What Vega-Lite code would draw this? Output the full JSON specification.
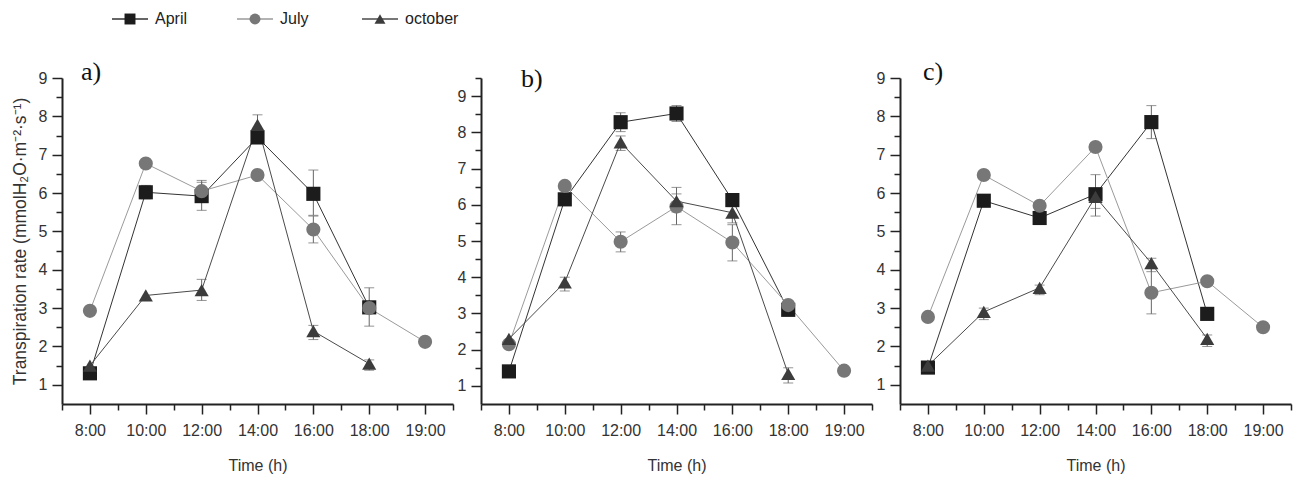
{
  "$schema": "https://vega.github.io/schema/vega-lite/v6.json",
  "padding": {"left": 11, "top": 11, "right": 5, "bottom": 5},
  "spacing": 32,
  "background": "white",
  "datasets": {
    "keys": [
      {"month": "April", "pos": 0},
      {"month": "July", "pos": 1},
      {"month": "october", "pos": 2}
    ],
    "pts": [
      {"panel": "a", "month": "April", "idx": 1, "value": 1.3},
      {"panel": "a", "month": "April", "idx": 2, "value": 6.02, "lo": 5.85, "hi": 6.2},
      {"panel": "a", "month": "April", "idx": 3, "value": 5.92, "lo": 5.55, "hi": 6.28},
      {"panel": "a", "month": "April", "idx": 4, "value": 7.45, "lo": 7.35, "hi": 7.6},
      {"panel": "a", "month": "April", "idx": 5, "value": 5.98, "lo": 5.42, "hi": 6.6},
      {"panel": "a", "month": "April", "idx": 6, "value": 3.02, "lo": 2.53, "hi": 3.53},
      {"panel": "a", "month": "July", "idx": 1, "value": 2.93},
      {"panel": "a", "month": "July", "idx": 2, "value": 6.77},
      {"panel": "a", "month": "July", "idx": 3, "value": 6.05, "lo": 5.8, "hi": 6.33},
      {"panel": "a", "month": "July", "idx": 4, "value": 6.47},
      {"panel": "a", "month": "July", "idx": 5, "value": 5.05, "lo": 4.7, "hi": 5.4},
      {"panel": "a", "month": "July", "idx": 6, "value": 3.0},
      {"panel": "a", "month": "July", "idx": 7, "value": 2.12},
      {"panel": "a", "month": "october", "idx": 1, "value": 1.5},
      {"panel": "a", "month": "october", "idx": 2, "value": 3.33},
      {"panel": "a", "month": "october", "idx": 3, "value": 3.47, "lo": 3.2, "hi": 3.75},
      {"panel": "a", "month": "october", "idx": 4, "value": 7.78, "lo": 7.5, "hi": 8.04},
      {"panel": "a", "month": "october", "idx": 5, "value": 2.4, "lo": 2.18, "hi": 2.55},
      {"panel": "a", "month": "october", "idx": 6, "value": 1.55, "lo": 1.38, "hi": 1.65},

      {"panel": "b", "month": "April", "idx": 1, "value": 1.4},
      {"panel": "b", "month": "April", "idx": 2, "value": 6.15},
      {"panel": "b", "month": "April", "idx": 3, "value": 8.28, "lo": 8.02, "hi": 8.54},
      {"panel": "b", "month": "April", "idx": 4, "value": 8.52, "lo": 8.3, "hi": 8.74},
      {"panel": "b", "month": "April", "idx": 5, "value": 6.13},
      {"panel": "b", "month": "April", "idx": 6, "value": 3.1},
      {"panel": "b", "month": "July", "idx": 1, "value": 2.15},
      {"panel": "b", "month": "July", "idx": 2, "value": 6.52},
      {"panel": "b", "month": "July", "idx": 3, "value": 4.98, "lo": 4.7, "hi": 5.25},
      {"panel": "b", "month": "July", "idx": 4, "value": 5.95, "lo": 5.45, "hi": 6.3},
      {"panel": "b", "month": "July", "idx": 5, "value": 4.96, "lo": 4.45, "hi": 5.45},
      {"panel": "b", "month": "July", "idx": 6, "value": 3.23},
      {"panel": "b", "month": "July", "idx": 7, "value": 1.42},
      {"panel": "b", "month": "october", "idx": 1, "value": 2.3},
      {"panel": "b", "month": "october", "idx": 2, "value": 3.86, "lo": 3.62, "hi": 4.0},
      {"panel": "b", "month": "october", "idx": 3, "value": 7.72, "lo": 7.5, "hi": 7.9},
      {"panel": "b", "month": "october", "idx": 4, "value": 6.1, "lo": 5.8, "hi": 6.48},
      {"panel": "b", "month": "october", "idx": 5, "value": 5.78, "lo": 5.5, "hi": 5.95},
      {"panel": "b", "month": "october", "idx": 6, "value": 1.33, "lo": 1.08, "hi": 1.5},

      {"panel": "c", "month": "April", "idx": 1, "value": 1.45},
      {"panel": "c", "month": "April", "idx": 2, "value": 5.8},
      {"panel": "c", "month": "April", "idx": 3, "value": 5.35},
      {"panel": "c", "month": "April", "idx": 4, "value": 5.97, "lo": 5.4, "hi": 6.48},
      {"panel": "c", "month": "April", "idx": 5, "value": 7.85, "lo": 7.42, "hi": 8.28},
      {"panel": "c", "month": "April", "idx": 6, "value": 2.85},
      {"panel": "c", "month": "July", "idx": 1, "value": 2.77},
      {"panel": "c", "month": "July", "idx": 2, "value": 6.47},
      {"panel": "c", "month": "July", "idx": 3, "value": 5.67},
      {"panel": "c", "month": "July", "idx": 4, "value": 7.2},
      {"panel": "c", "month": "July", "idx": 5, "value": 3.4, "lo": 2.85, "hi": 4.03},
      {"panel": "c", "month": "July", "idx": 6, "value": 3.7},
      {"panel": "c", "month": "July", "idx": 7, "value": 2.5},
      {"panel": "c", "month": "october", "idx": 1, "value": 1.5, "lo": 1.35, "hi": 1.6},
      {"panel": "c", "month": "october", "idx": 2, "value": 2.9, "lo": 2.7, "hi": 3.0},
      {"panel": "c", "month": "october", "idx": 3, "value": 3.53, "lo": 3.35, "hi": 3.6},
      {"panel": "c", "month": "october", "idx": 4, "value": 5.9, "lo": 5.6, "hi": 6.1},
      {"panel": "c", "month": "october", "idx": 5, "value": 4.17, "lo": 3.95, "hi": 4.3},
      {"panel": "c", "month": "october", "idx": 6, "value": 2.2, "lo": 2.0, "hi": 2.3}
    ]
  },
  "config": {
    "view": {"stroke": null},
    "font": "Liberation Sans",
    "axis": {
      "grid": false,
      "domainColor": "#222222",
      "domainWidth": 2,
      "tickColor": "#222222",
      "tickWidth": 1.5,
      "labelFont": "Liberation Sans",
      "labelColor": "#333333",
      "labelOverlap": false,
      "titleFont": "Liberation Sans",
      "titleColor": "#333333",
      "titleFontWeight": "normal"
    },
    "title": {"font": "Liberation Serif", "fontSize": 26, "fontWeight": "normal", "color": "#111111", "anchor": "start", "frame": "group", "offset": -15, "baseline": "alphabetic"}
  },
  "vconcat": [
    {
      "width": 450, "height": 16,
      "data": {"name": "keys"},
      "layer": [
        {
          "mark": {"type": "rule", "strokeWidth": 1.3, "xOffset": -18, "x2Offset": 18},
          "encoding": {
            "x": {"field": "pos", "type": "quantitative", "scale": {"domain": [-0.544, 3.056], "nice": false, "zero": false}, "axis": null},
            "x2": {"field": "pos"},
            "y": {"datum": 0, "type": "quantitative", "scale": {"domain": [-1, 1], "nice": false}, "axis": null},
            "color": {"field": "month", "type": "nominal", "legend": null, "scale": {"domain": ["April", "July", "october"], "range": ["#333333", "#9a9a9a", "#4a4a4a"]}}
          }
        },
        {
          "mark": {"type": "point", "filled": true, "opacity": 1, "size": 120},
          "encoding": {
            "x": {"field": "pos", "type": "quantitative", "axis": null},
            "y": {"datum": 0, "type": "quantitative", "axis": null},
            "fill": {"field": "month", "type": "nominal", "legend": null},
            "shape": {"field": "month", "type": "nominal", "legend": null}
          }
        },
        {
          "mark": {"type": "text", "align": "left", "baseline": "middle", "dx": 25, "fontSize": 16, "font": "Liberation Sans", "color": "#222222"},
          "encoding": {
            "x": {"field": "pos", "type": "quantitative", "axis": null},
            "y": {"datum": 0, "type": "quantitative", "axis": null},
            "text": {"field": "month", "type": "nominal"}
          }
        }
      ]
    },
    {
      "spacing": 3,
      "hconcat": [
        {
          "width": 391, "height": 326,
          "title": {"text": "a)", "dx": 19},
          "data": {"name": "pts"},
          "transform": [{"filter": "datum.panel === 'a'"}],
          "resolve": {"axis": {"x": "independent", "y": "independent"}},
          "layer": [
            {
              "transform": [{"filter": "isValid(datum.lo)"}],
              "mark": {"type": "errorbar", "ticks": true, "size": 10, "thickness": 1, "color": "#666666"},
              "encoding": {
                "x": {"field": "idx", "type": "quantitative", "scale": {"domain": [0.5, 7.5]},
                  "axis": {"orient": "bottom", "title": null, "values": [0.5, 1.5, 2.5, 3.5, 4.5, 5.5, 6.5, 7.5], "labels": false, "domain": false, "tickSize": 6}},
                "y": {"field": "lo", "type": "quantitative", "scale": {"domain": [0.5, 9], "nice": false, "zero": false},
                  "axis": {"orient": "left", "title": null, "values": [1.5, 2.5, 3.5, 4.5, 5.5, 6.5, 7.5, 8.5], "labels": false, "domain": false, "tickSize": 6}},
                "y2": {"field": "hi"}
              }
            },
            {
              "mark": {"type": "line", "strokeWidth": 1},
              "encoding": {
                "x": {"field": "idx", "type": "quantitative", "axis": null},
                "y": {"field": "value", "type": "quantitative", "axis": null},
                "stroke": {"field": "month", "type": "nominal", "legend": null, "scale": {"domain": ["April", "July", "october"], "range": ["#333333", "#9a9a9a", "#4a4a4a"]}},
                "order": {"field": "idx"}
              }
            },
            {
              "mark": {"type": "point", "filled": true, "opacity": 1, "size": 200},
              "encoding": {
                "x": {"field": "idx", "type": "quantitative", "title": "Time (h)",
                  "axis": {"orient": "bottom", "values": [1, 2, 3, 4, 5, 6, 7],
                    "labelExpr": "['8:00','10:00','12:00','14:00','16:00','18:00','19:00'][datum.value - 1]",
                    "tickSize": 10, "labelFontSize": 16, "labelPadding": 8, "titleFontSize": 16, "titlePadding": 19, "labelFlush": false}},
                "y": {"field": "value", "type": "quantitative", "title": "Transpiration rate (mmolH₂O·m⁻²·s⁻¹)",
                  "axis": {"orient": "left", "values": [1, 2, 3, 4, 5, 6, 7, 8, 9],
                    "tickSize": 10, "labelFontSize": 16, "labelPadding": 5, "titleFontSize": 17.5, "titlePadding": 9}},
                "fill": {"field": "month", "type": "nominal", "legend": null, "scale": {"domain": ["April", "July", "october"], "range": ["#1c1c1c", "#777777", "#3c3c3c"]}},
                "shape": {"field": "month", "type": "nominal", "legend": null, "scale": {"domain": ["April", "July", "october"], "range": ["square", "circle", "triangle-up"]}}
              }
            }
          ]
        },
        {
          "width": 391, "height": 326,
          "title": {"text": "b)", "dx": 40},
          "data": {"name": "pts"},
          "transform": [{"filter": "datum.panel === 'b'"}],
          "resolve": {"axis": {"x": "independent", "y": "independent"}},
          "layer": [
            {
              "transform": [{"filter": "isValid(datum.lo)"}],
              "mark": {"type": "errorbar", "ticks": true, "size": 10, "thickness": 1, "color": "#666666"},
              "encoding": {
                "x": {"field": "idx", "type": "quantitative", "scale": {"domain": [0.5, 7.5]},
                  "axis": {"orient": "bottom", "title": null, "values": [0.5, 1.5, 2.5, 3.5, 4.5, 5.5, 6.5, 7.5], "labels": false, "domain": false, "tickSize": 6}},
                "y": {"field": "lo", "type": "quantitative", "scale": {"domain": [0.5, 9.5], "nice": false, "zero": false},
                  "axis": {"orient": "left", "title": null, "values": [1.5, 2.5, 3.5, 4.5, 5.5, 6.5, 7.5, 8.5, 9.5], "labels": false, "domain": false, "tickSize": 6}},
                "y2": {"field": "hi"}
              }
            },
            {
              "mark": {"type": "line", "strokeWidth": 1},
              "encoding": {
                "x": {"field": "idx", "type": "quantitative", "axis": null},
                "y": {"field": "value", "type": "quantitative", "axis": null},
                "stroke": {"field": "month", "type": "nominal", "legend": null},
                "order": {"field": "idx"}
              }
            },
            {
              "mark": {"type": "point", "filled": true, "opacity": 1, "size": 200},
              "encoding": {
                "x": {"field": "idx", "type": "quantitative", "title": "Time (h)",
                  "axis": {"orient": "bottom", "values": [1, 2, 3, 4, 5, 6, 7],
                    "labelExpr": "['8:00','10:00','12:00','14:00','16:00','18:00','19:00'][datum.value - 1]",
                    "tickSize": 10, "labelFontSize": 16, "labelPadding": 8, "titleFontSize": 16, "titlePadding": 19, "labelFlush": false}},
                "y": {"field": "value", "type": "quantitative", "title": null,
                  "axis": {"orient": "left", "values": [1, 2, 3, 4, 5, 6, 7, 8, 9],
                    "tickSize": 10, "labelFontSize": 16, "labelPadding": 5}},
                "fill": {"field": "month", "type": "nominal", "legend": null},
                "shape": {"field": "month", "type": "nominal", "legend": null}
              }
            }
          ]
        },
        {
          "width": 391, "height": 326,
          "title": {"text": "c)", "dx": 23},
          "data": {"name": "pts"},
          "transform": [{"filter": "datum.panel === 'c'"}],
          "resolve": {"axis": {"x": "independent", "y": "independent"}},
          "layer": [
            {
              "transform": [{"filter": "isValid(datum.lo)"}],
              "mark": {"type": "errorbar", "ticks": true, "size": 10, "thickness": 1, "color": "#666666"},
              "encoding": {
                "x": {"field": "idx", "type": "quantitative", "scale": {"domain": [0.5, 7.5]},
                  "axis": {"orient": "bottom", "title": null, "values": [0.5, 1.5, 2.5, 3.5, 4.5, 5.5, 6.5, 7.5], "labels": false, "domain": false, "tickSize": 6}},
                "y": {"field": "lo", "type": "quantitative", "scale": {"domain": [0.5, 9], "nice": false, "zero": false},
                  "axis": {"orient": "left", "title": null, "values": [1.5, 2.5, 3.5, 4.5, 5.5, 6.5, 7.5, 8.5], "labels": false, "domain": false, "tickSize": 6}},
                "y2": {"field": "hi"}
              }
            },
            {
              "mark": {"type": "line", "strokeWidth": 1},
              "encoding": {
                "x": {"field": "idx", "type": "quantitative", "axis": null},
                "y": {"field": "value", "type": "quantitative", "axis": null},
                "stroke": {"field": "month", "type": "nominal", "legend": null},
                "order": {"field": "idx"}
              }
            },
            {
              "mark": {"type": "point", "filled": true, "opacity": 1, "size": 200},
              "encoding": {
                "x": {"field": "idx", "type": "quantitative", "title": "Time (h)",
                  "axis": {"orient": "bottom", "values": [1, 2, 3, 4, 5, 6, 7],
                    "labelExpr": "['8:00','10:00','12:00','14:00','16:00','18:00','19:00'][datum.value - 1]",
                    "tickSize": 10, "labelFontSize": 16, "labelPadding": 8, "titleFontSize": 16, "titlePadding": 19, "labelFlush": false}},
                "y": {"field": "value", "type": "quantitative", "title": null,
                  "axis": {"orient": "left", "values": [1, 2, 3, 4, 5, 6, 7, 8, 9],
                    "tickSize": 10, "labelFontSize": 16, "labelPadding": 5}},
                "fill": {"field": "month", "type": "nominal", "legend": null},
                "shape": {"field": "month", "type": "nominal", "legend": null}
              }
            }
          ]
        }
      ]
    }
  ],
  "resolve": {"scale": {"fill": "shared", "shape": "shared", "stroke": "shared", "color": "shared"}}
}
